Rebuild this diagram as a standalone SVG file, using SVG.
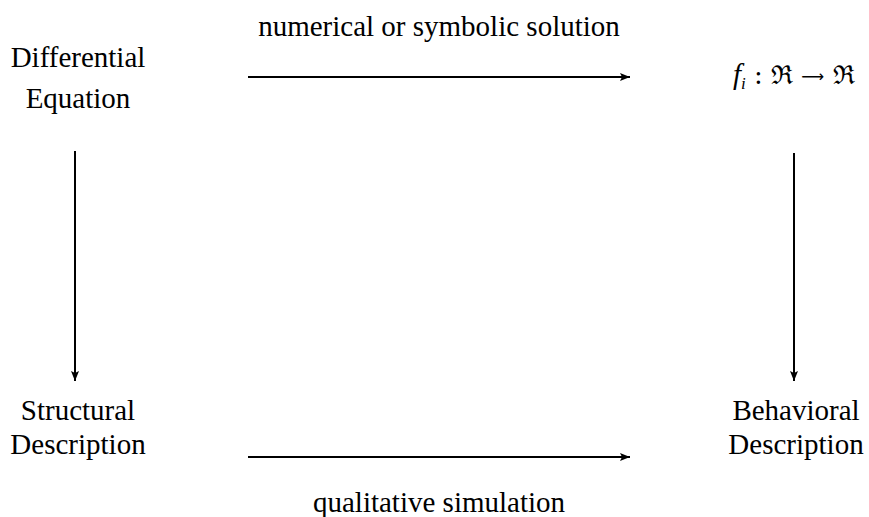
<svg xmlns="http://www.w3.org/2000/svg" width="869" height="517" viewBox="0 0 869 517">
<defs>
<style>
text{font-family:"Liberation Serif","DejaVu Serif",serif;font-size:29px;fill:#000;text-anchor:middle}
.m{text-anchor:start}
.c{stroke:#000;stroke-width:2;fill:none}
</style>
<marker id="ah" viewBox="0 0 10 8" refX="10" refY="4" markerWidth="10" markerHeight="8" markerUnits="userSpaceOnUse" orient="auto">
<path d="M0,0 L10,4 L0,8 L2,4 Z" fill="#000"/>
</marker>
</defs>
<rect width="869" height="517" fill="#fff"/>
<g id="connectors">
<line class="c" x1="248" y1="77" x2="630" y2="77" marker-end="url(#ah)"/>
<line class="c" x1="248" y1="457" x2="630" y2="457" marker-end="url(#ah)"/>
<line class="c" x1="75" y1="151" x2="75" y2="381" marker-end="url(#ah)"/>
<line class="c" x1="794" y1="153" x2="794" y2="381" marker-end="url(#ah)" stroke-width="2.5"/>
<text x="439" y="36">numerical or symbolic solution</text>
<text x="439" y="512">qualitative simulation</text>
</g>
<g id="differential-equation">
<text x="78" y="67">Differential</text>
<text x="78" y="108">Equation</text>
</g>
<g id="function">
<text class="m" x="733" y="84" font-size="28"><tspan font-style="italic">f</tspan><tspan font-style="italic" font-size="17" dy="5">i</tspan><tspan dy="-5" font-family="DejaVu Serif, serif" font-size="26"> : ℜ </tspan><tspan font-family="DejaVu Sans, sans-serif" font-size="16" dy="-2">⟶</tspan><tspan dy="2" font-family="DejaVu Serif, serif" font-size="26"> ℜ</tspan></text>
</g>
<g id="structural-description">
<text x="78" y="420">Structural</text>
<text x="78" y="454">Description</text>
</g>
<g id="behavioral-description">
<text x="796" y="420">Behavioral</text>
<text x="796" y="454">Description</text>
</g>
</svg>
